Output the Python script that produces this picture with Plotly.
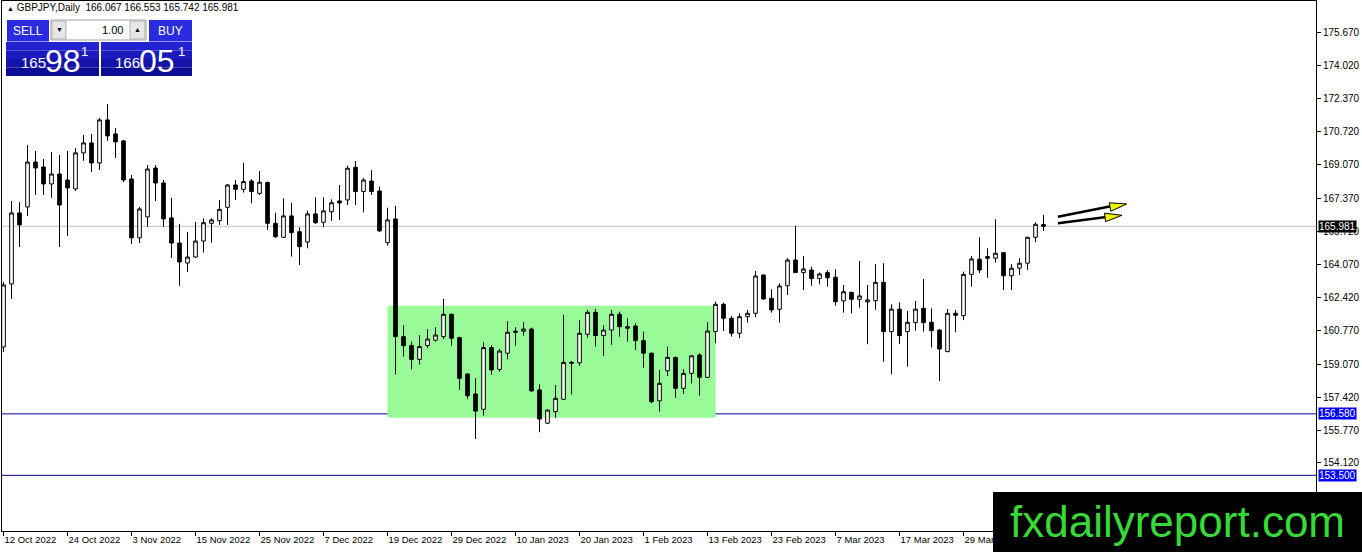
import math
import plotly.graph_objects as go

# ##### Data #####
symbol_header = "GBPJPY,Daily"
last_ohlc = ["166.067", "166.553", "165.742", "165.981"]

opens = [
    159.93, 163.09, 166.65, 166.95, 169.20, 168.95, 168.10, 168.60, 168.30, 167.85,
    169.66, 170.16, 169.15, 171.31, 170.61, 170.26, 168.35, 165.40, 166.45, 168.90,
    168.15, 166.40, 165.14, 164.14, 164.44, 165.24, 166.13, 166.26, 166.93, 168.05,
    167.83, 168.25, 167.63, 168.17, 166.13, 165.43, 166.50, 165.71, 165.19, 166.60,
    166.18, 166.71, 167.25, 167.30, 168.94, 167.72, 168.25, 167.75, 165.16, 166.35,
    160.45, 160.00, 159.31, 160.00, 160.27, 160.45, 161.57, 160.40, 158.58, 157.58,
    156.81, 159.90, 158.81, 159.62, 160.73, 160.72, 160.83, 157.78, 156.11, 156.69,
    157.31, 159.11, 159.14, 160.57, 161.67, 160.50, 160.78, 161.57, 160.87, 160.98,
    160.25, 159.62, 157.23, 158.74, 159.41, 157.86, 158.61, 159.53, 158.41, 160.70,
    162.07, 161.37, 160.62, 161.45, 161.62, 163.54, 162.37, 161.82, 163.00, 164.29,
    163.66, 163.79, 163.36, 163.66, 163.43, 162.24, 162.67, 162.32, 162.19, 162.25,
    163.17, 160.70, 161.83, 160.70, 161.15, 161.87, 161.17, 160.78, 159.70, 161.62,
    161.50, 163.57, 164.33, 164.46, 164.38, 164.66, 163.50, 163.88, 164.13, 165.43,
    166.067,
]
highs = [
    163.19, 167.25, 167.20, 170.06, 169.75, 169.35, 169.70, 169.55, 169.75, 169.91,
    170.56, 170.61, 171.41, 172.11, 170.91, 170.31, 168.55, 166.95, 169.05, 169.05,
    168.30, 167.40, 166.10, 165.70, 166.20, 166.38, 166.38, 167.30, 168.10, 168.30,
    169.17, 168.34, 168.75, 168.22, 166.66, 167.38, 167.16, 165.93, 166.76, 167.43,
    167.43, 167.33, 168.05, 169.02, 169.25, 168.39, 168.80, 167.97, 166.91, 167.00,
    161.03, 160.20, 160.53, 160.83, 160.92, 162.34, 161.60, 160.45, 158.60, 158.36,
    160.17, 160.03, 159.83, 161.23, 160.92, 161.17, 160.90, 158.06, 156.80, 158.03,
    161.54, 159.23, 161.28, 161.79, 161.84, 161.03, 161.79, 161.70, 161.37, 161.12,
    160.70, 159.65, 158.78, 159.95, 159.45, 158.83, 159.50, 159.62, 161.17, 162.20,
    162.15, 161.49, 161.62, 161.79, 163.74, 163.55, 162.82, 163.12, 164.38, 166.00,
    164.49, 163.96, 163.66, 163.79, 163.83, 163.04, 162.70, 164.24, 163.04, 164.08,
    164.13, 162.07, 162.17, 161.74, 162.24, 163.34, 161.87, 160.83, 161.83, 161.79,
    163.71, 164.49, 165.43, 164.88, 166.33, 164.66, 164.09, 164.38, 165.45, 166.18,
    166.553,
]
lows = [
    159.68, 162.34, 164.94, 166.50, 167.55, 167.55, 167.40, 164.94, 165.50, 167.75,
    169.26, 168.70, 168.80, 170.26, 169.40, 168.20, 165.09, 165.14, 165.95, 167.25,
    165.95, 164.39, 162.99, 163.69, 164.39, 164.66, 165.16, 166.05, 166.05, 167.30,
    167.67, 167.13, 167.55, 165.80, 165.40, 165.40, 164.46, 164.04, 164.88, 166.10,
    165.93, 166.25, 166.30, 167.05, 167.05, 166.68, 167.55, 165.70, 165.01, 158.56,
    159.45, 158.81, 159.06, 159.87, 160.20, 160.33, 160.00, 157.78, 157.32, 155.32,
    156.49, 158.53, 158.69, 159.31, 160.00, 160.50, 157.70, 155.66, 156.08, 156.39,
    157.28, 157.56, 158.99, 160.40, 159.95, 159.49, 160.03, 160.45, 160.20, 159.78,
    158.89, 157.11, 156.69, 158.48, 157.39, 157.58, 158.11, 157.49, 158.38, 160.12,
    160.73, 160.45, 160.37, 161.15, 161.42, 162.30, 161.65, 161.15, 162.54, 163.64,
    162.79, 163.00, 163.07, 162.96, 162.00, 161.65, 161.62, 161.90, 160.07, 161.79,
    159.19, 158.56, 160.08, 158.94, 160.75, 160.70, 159.90, 158.23, 159.67, 160.67,
    161.28, 162.96, 163.63, 163.40, 164.16, 162.79, 162.79, 163.54, 163.79, 165.18,
    165.742,
]
closes = [
    163.04, 166.65, 166.05, 169.20, 168.90, 168.10, 168.60, 167.05, 167.90, 169.66,
    170.16, 169.15, 171.31, 170.51, 170.21, 168.30, 165.40, 166.85, 168.85, 168.15,
    166.35, 165.14, 164.19, 164.44, 165.24, 166.16, 166.30, 166.83, 168.05, 167.83,
    168.22, 167.72, 168.19, 166.13, 165.46, 166.50, 165.66, 164.96, 166.60, 166.16,
    166.75, 167.16, 167.15, 168.89, 167.72, 168.30, 167.72, 165.75, 166.30, 160.45,
    160.00, 159.31, 159.95, 160.33, 160.53, 161.57, 160.37, 158.36, 157.49, 156.72,
    159.90, 158.78, 159.73, 160.67, 160.67, 160.83, 157.73, 156.32, 156.77, 157.36,
    159.16, 159.16, 160.62, 161.67, 160.50, 160.78, 161.57, 160.95, 160.95, 160.25,
    159.62, 157.19, 158.11, 159.41, 157.86, 158.61, 159.49, 158.41, 160.73, 162.07,
    161.37, 160.62, 161.45, 161.62, 163.49, 162.34, 161.79, 162.99, 164.29, 163.66,
    163.84, 163.36, 163.59, 163.40, 162.20, 162.70, 162.32, 162.49, 162.29, 163.17,
    160.70, 161.83, 160.50, 161.17, 161.83, 161.15, 160.75, 159.83, 161.62, 161.52,
    163.57, 164.34, 163.79, 164.38, 164.63, 163.50, 163.88, 164.13, 165.43, 166.08,
    165.981,
]

# bar index of each date label on the time axis
date_tick_bars = [0, 8, 16, 24, 32, 40, 48, 56, 64, 72, 80, 88, 96, 104, 112, 120]
date_tick_labels = [
    "12 Oct 2022", "24 Oct 2022", "3 Nov 2022", "15 Nov 2022", "25 Nov 2022",
    "7 Dec 2022", "19 Dec 2022", "29 Dec 2022", "10 Jan 2023", "20 Jan 2023",
    "1 Feb 2023", "13 Feb 2023", "23 Feb 2023", "7 Mar 2023", "17 Mar 2023",
    "29 Mar 2023",
]
price_ticks = [175.670, 174.020, 172.370, 170.720, 169.070, 167.370, 165.720,
               164.070, 162.420, 160.770, 159.070, 157.420, 155.770, 154.120]

bid_price = 165.981
support_levels = [156.580, 153.500]
range_box = dict(bar_start=48, bar_end=89, top=162.00, bottom=156.39)
# arrows: (tail bar, tail price, tip bar, tip price)
arrows = [(131.8, 166.46, 140.4, 167.10), (131.8, 166.13, 139.8, 166.53)]

# ##### Layout geometry #####
W, H = 1362, 552
ML, MR, MT, MB = 2, 46, 1, 21
PW, PH = W - ML - MR, H - MT - MB
X_RANGE = [-0.19, 164.06]
Y_RANGE = [150.71, 177.27]
FONT = "Liberation Sans, Arial, DejaVu Sans"


def px(x):
    # pixel x -> paper x
    return (x - ML) / PW


def py(y):
    # pixel y (from top) -> paper y
    return (H - MB - y) / PH


def rect(x0, y0, x1, y1, fill, line=None, lw=0):
    return dict(type="rect", xref="paper", yref="paper",
                x0=px(x0), x1=px(x1), y0=py(y1), y1=py(y0),
                fillcolor=fill, line=dict(color=line or fill, width=lw), layer="above")


def label(text, x, y, size, color="white", anchor="center", family=FONT):
    return dict(text=text, xref="paper", yref="paper", x=px(x), y=py(y),
                xanchor=anchor, yanchor="middle", showarrow=False,
                font=dict(family=family, size=size, color=color))


# ##### Figure #####
fig = go.Figure()
fig.add_trace(go.Candlestick(
    x=list(range(len(opens))), open=opens, high=highs, low=lows, close=closes,
    increasing=dict(line=dict(color="black", width=1), fillcolor="white"),
    decreasing=dict(line=dict(color="black", width=1), fillcolor="black"),
    whiskerwidth=0, hoverinfo="skip", showlegend=False,
))

shapes = []
# consolidation box and horizontal levels (behind the candles)
shapes.append(dict(type="rect", xref="x", yref="y",
                   x0=range_box["bar_start"], x1=range_box["bar_end"],
                   y0=range_box["bottom"], y1=range_box["top"],
                   fillcolor="#98fb98", line=dict(width=0), layer="below"))
shapes.append(dict(type="line", xref="paper", yref="y", x0=0, x1=1,
                   y0=bid_price, y1=bid_price, line=dict(color="#c0c0c0", width=1), layer="below"))
for lvl in support_levels:
    shapes.append(dict(type="line", xref="paper", yref="y", x0=0, x1=1, y0=lvl, y1=lvl,
                       line=dict(color="#00009c", width=1), layer="below"))

# yellow arrows
ppx = PW / (X_RANGE[1] - X_RANGE[0])
ppy = PH / (Y_RANGE[1] - Y_RANGE[0])
for xa, ya, xb, yb in arrows:
    shapes.append(dict(type="line", xref="x", yref="y", x0=xa, y0=ya, x1=xb - 1.2, y1=yb - 0.05,
                       line=dict(color="black", width=2.5), layer="above"))
    dx, dy = (xb - xa) * ppx, (yb - ya) * ppy
    n = math.hypot(dx, dy)
    ux, uy = dx / n, dy / n
    bx, by = -17 * ux, -17 * uy
    nx, ny = -uy * 4.3, ux * 4.3
    path = f"M 0 0 L {bx + nx:.2f} {by + ny:.2f} L {bx - nx:.2f} {by - ny:.2f} Z"
    shapes.append(dict(type="path", xref="x", yref="y", xsizemode="pixel", ysizemode="pixel",
                       xanchor=xb, yanchor=yb, path=path, fillcolor="#f0f000",
                       line=dict(color="black", width=1), layer="above"))

# one-click trading panel
shapes.append(rect(7, 20, 49, 41.5, "#2a2ade"))
shapes.append(rect(149, 20, 192, 41.5, "#2a2ade"))
shapes.append(rect(51, 20, 146, 40, "white", "#a0a0a0", 1))
shapes.append(rect(52, 21, 66, 39, "#e6e6e6", "#b0b0b0", 1))
shapes.append(rect(130, 21, 145, 39, "#e6e6e6", "#b0b0b0", 1))
bands = ["#2222d0", "#1a1abe", "#1313aa", "#0b0b96"]
for i, col in enumerate(bands):
    y0 = 42 + i * 8.5
    shapes.append(rect(6, y0, 99, y0 + 8.5, col))
    shapes.append(rect(101, y0, 192, y0 + 8.5, col))
shapes.append(dict(type="line", xref="paper", yref="paper", x0=px(10), x1=px(48),
                   y0=py(41.5), y1=py(41.5), line=dict(color="#9090ff", width=1), layer="above"))
shapes.append(dict(type="line", xref="paper", yref="paper", x0=px(151), x1=px(190),
                   y0=py(41.5), y1=py(41.5), line=dict(color="#9090ff", width=1), layer="above"))

# watermark box
shapes.append(rect(993, 492, 1362, 552, "black"))

annotations = [
    label("<span style='font-size:7px'>\u25b2</span> " + symbol_header + "\u00a0\u00a0" + " ".join(last_ohlc),
          5, 8, 10, color="black", anchor="left"),
    label("SELL", 28, 31, 12),
    label("BUY", 170, 31, 12),
    label("\u25bc", 59, 30, 7, color="black"),
    label("\u25b2", 137.5, 30, 7, color="black"),
    label("1.00", 125, 30, 11, color="black", anchor="right"),
    label("165", 33, 63, 15),
    label("98", 63, 61, 32),
    label("1", 84, 52, 13),
    label("166", 127, 63, 15),
    label("05", 157, 61, 32),
    label("1", 181, 52, 13),
    label("fxdailyreport.com", 1177, 521, 44, color="#36d936"),
]
# highlighted price labels on the right scale
for price, bg in [(bid_price, "black")] + [(lvl, "#0000ff") for lvl in support_levels]:
    annotations.append(dict(text=f"{price:.3f}", xref="paper", yref="y", x=px(1318), y=price,
                            xanchor="left", yanchor="middle", showarrow=False, bgcolor=bg,
                            borderpad=0, font=dict(family=FONT, size=10, color="white")))

fig.update_layout(
    width=W, height=H,
    margin=dict(l=ML, r=MR, t=MT, b=MB, pad=0),
    paper_bgcolor="white", plot_bgcolor="white",
    boxgap=0.35,
    showlegend=False,
    shapes=shapes,
    annotations=annotations,
    font=dict(family=FONT, size=10, color="black"),
    xaxis=dict(
        range=X_RANGE, rangeslider=dict(visible=False), showgrid=False, zeroline=False,
        tickmode="array", tickvals=date_tick_bars, ticktext=date_tick_labels,
        ticks="outside", ticklen=4, tickcolor="black", ticklabelposition="outside right",
        tickangle=0,
        showline=True, linecolor="black", linewidth=1, mirror=True,
        tickfont=dict(family=FONT, size=9.5, color="black"),
    ),
    yaxis=dict(
        range=Y_RANGE, side="right", showgrid=False, zeroline=False,
        tickmode="array", tickvals=price_ticks, ticktext=[f"{p:.3f}" for p in price_ticks],
        ticks="outside", ticklen=4, tickcolor="black",
        showline=True, linecolor="black", linewidth=1, mirror=True,
        tickfont=dict(family=FONT, size=10, color="black"),
    ),
)

# drop the default page margin so the chart sits at the window's top-left corner
fig.write_html("out.html", config={"displayModeBar": False},
               post_script="document.body.style.margin='0';document.body.style.overflow='hidden';")
